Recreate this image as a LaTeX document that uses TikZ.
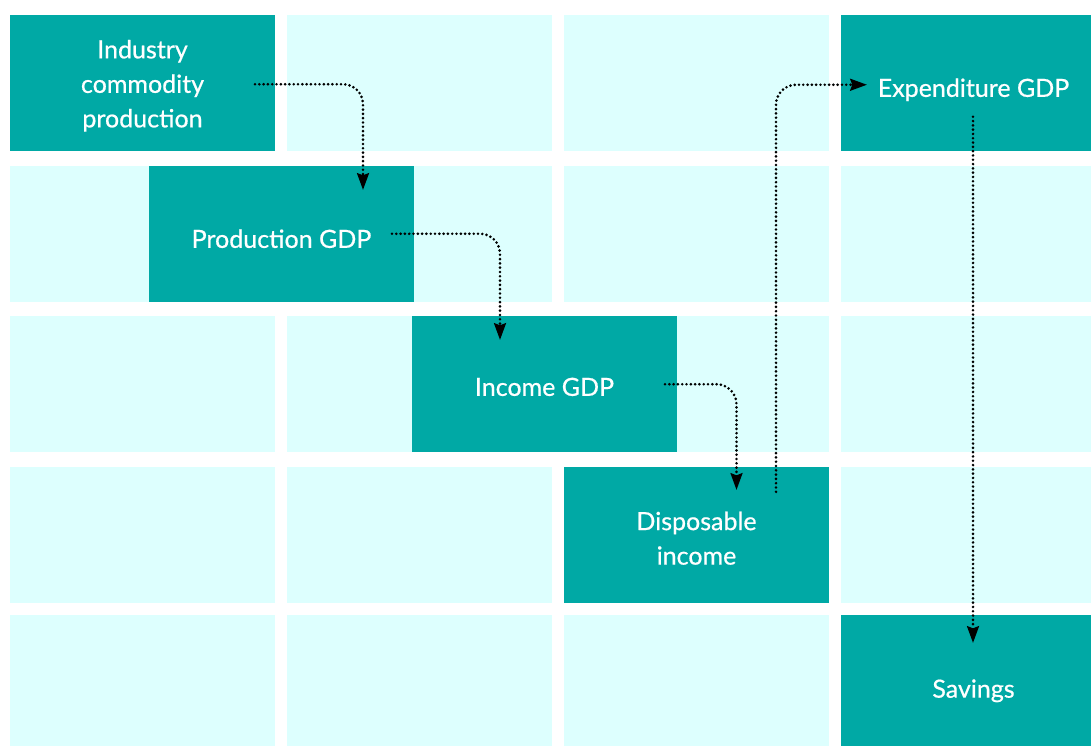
\documentclass[tikz,border=0pt]{standalone}
\usepackage{fontspec}
\setmainfont{Lato}[FakeBold=0.6]
\usetikzlibrary{arrows.meta,calc}
\definecolor{tealbox}{HTML}{00A9A5}
\definecolor{cellbg}{HTML}{DDFFFE}
\newcommand{\boxtext}[2]{\raisebox{-#1}[\height][\depth]{\begin{tabular}{@{}c@{}}#2\end{tabular}}}
\begin{document}
\begin{tikzpicture}[x=1pt,y=-1pt,
  stage/.style={fill=tealbox, text=white, minimum width=265pt, minimum height=135.5pt,
    inner sep=0pt, font=\fontsize{25pt}{34.5pt}\selectfont},
  flow/.style={line width=2.9pt, dash pattern=on 0pt off 4.3pt, line cap=round,
    rounded corners=20pt,
    -{Stealth[length=17pt,width=12.5pt,inset=2.5pt,line width=0pt]}}]
\useasboundingbox (0,0) rectangle (1091,745);
\fill[white] (0,0) rectangle (1091,745);
\foreach \c in {0,1,2,3}
  \foreach \y in {15,166,316,467,615}
    \fill[cellbg] ({10+277*\c},\y) rectangle ++(265,135.5);
\node[stage] (ind)  at (142.5,82.75)  {\boxtext{3.2pt}{Industry\\commodity\\production}};
\node[stage] (prod) at (281.5,233.75) {\boxtext{7.2pt}{Production GDP}};
\node[stage] (inc)  at (544.5,383.75) {\boxtext{5.2pt}{Income GDP}};
\node[stage] (disp) at (696.5,534.75) {\boxtext{5.7pt}{Disposable\\income}};
\node[stage] (exp)  at (973.5,82.75)  {\boxtext{7.2pt}{Expenditure GDP}};
\node[stage] (sav)  at (973.5,682.75) {\boxtext{8pt}{Savings}};
\coordinate (a1) at ($(ind.center)+(112.5,1.5)$);
\coordinate (b1) at ($(prod.north)+(81.5,24)$);
\coordinate (a2) at ($(prod.center)+(110.5,0)$);
\coordinate (b2) at ($(inc.north)+(-44.5,24)$);
\coordinate (a3) at ($(inc.center)+(120.5,0.5)$);
\coordinate (b3) at ($(disp.north)+(40,23)$);
\coordinate (a4) at ($(disp.north)+(79.5,25)$);
\coordinate (b4) at ($(exp.west)+(26,2)$);
\coordinate (a5) at ($(exp.center)+(-0.5,34)$);
\coordinate (b5) at ($(sav.north)+(-0.5,28)$);
\draw[flow] (a1) -| (b1);
\draw[flow] (a2) -| (b2);
\draw[flow] (a3) -| (b3);
\draw[flow] (a4) |- (b4);
\draw[flow] (a5) -- (b5);
\end{tikzpicture}
\end{document}
